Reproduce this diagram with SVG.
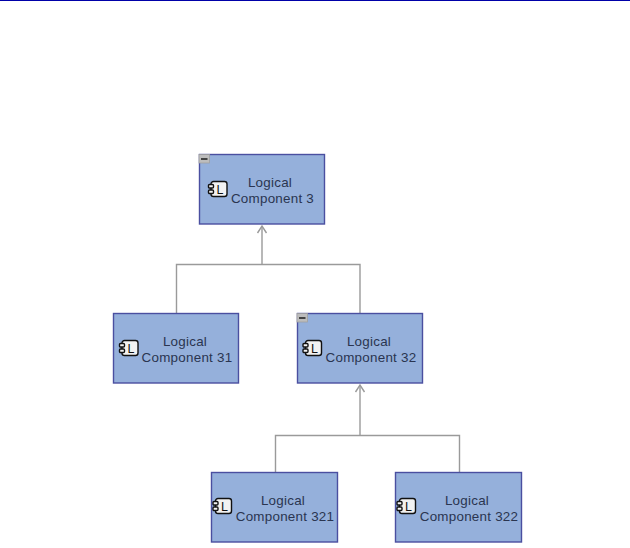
<svg xmlns="http://www.w3.org/2000/svg" width="630" height="548" viewBox="0 0 630 548">
<style>
.box{fill:#95b0db;stroke:#4a4fa0;stroke-width:1.4}
.t{font-family:"Liberation Sans",sans-serif;font-size:13.400px;letter-spacing:.25px;fill:#2a3550;text-anchor:middle}
.conn{fill:none;stroke:#9a9a9a;stroke-width:1.4}
.ic{fill:#f2f2f2;stroke:#111;stroke-width:1.4}
.il{font-family:"Liberation Sans",sans-serif;font-size:12.500px;fill:#111;text-anchor:middle}
.mb{fill:#bdbdbd;stroke:#a0a0a0;stroke-width:.8}
.mm{stroke:#111;stroke-width:1.400}
</style>
<defs>
<g id="icon">
<rect class="ic" x="3" y="0" width="16" height="15" rx="2.500"/>
<rect class="ic" x="0.500" y="3" width="5" height="3.500" rx="1"/>
<rect class="ic" x="0.500" y="8.500" width="5" height="3.500" rx="1"/>
<text class="il" x="12" y="12.300">L</text>
</g>
<g id="minus">
<rect class="mb" x="0" y="0" width="10.500" height="8.500"/>
<line class="mm" x1="2" y1="4.500" x2="8.500" y2="4.500"/>
</g>
</defs>
<rect x="0" y="0" width="630" height="1" fill="#0000a8"/>
<g id="connectors">
<path class="conn" d="M176.500 313V264.500H360 V313"/>
<path class="conn" d="M262 264.500V226"/>
<path class="conn" d="M257.500 233L262 226L266.500 233"/>
<path class="conn" d="M275.500 472V435.500H459.500V472"/>
<path class="conn" d="M360 435.500V385"/>
<path class="conn" d="M355.500 392L360 385L364.500 392"/>
</g>
<g id="node-3">
<rect class="box" x="199.500" y="154.500" width="125" height="69.500"/>
<use href="#minus" x="199" y="154.500"/>
<use href="#icon" x="208" y="181.500"/>
<text class="t"><tspan x="270" y="187">Logical</tspan><tspan x="272.500" y="202.500">Component 3</tspan></text>
</g>
<g id="node-31">
<rect class="box" x="113.500" y="313.500" width="125" height="69.500"/>
<use href="#icon" x="119" y="340.500"/>
<text class="t"><tspan x="185" y="346">Logical</tspan><tspan x="187" y="361.500">Component 31</tspan></text>
</g>
<g id="node-32">
<rect class="box" x="297.500" y="313.500" width="125" height="69.500"/>
<use href="#minus" x="297" y="313.500"/>
<use href="#icon" x="302.500" y="340.500"/>
<text class="t"><tspan x="369" y="346">Logical</tspan><tspan x="371" y="361.500">Component 32</tspan></text>
</g>
<g id="node-321">
<rect class="box" x="211.500" y="472.500" width="126" height="69.500"/>
<use href="#icon" x="212.500" y="498.500"/>
<text class="t"><tspan x="283" y="505">Logical</tspan><tspan x="285" y="520.500">Component 321</tspan></text>
</g>
<g id="node-322">
<rect class="box" x="395.500" y="472.500" width="126" height="69.500"/>
<use href="#icon" x="396.500" y="498.500"/>
<text class="t"><tspan x="467" y="505">Logical</tspan><tspan x="469" y="520.500">Component 322</tspan></text>
</g>
</svg>
